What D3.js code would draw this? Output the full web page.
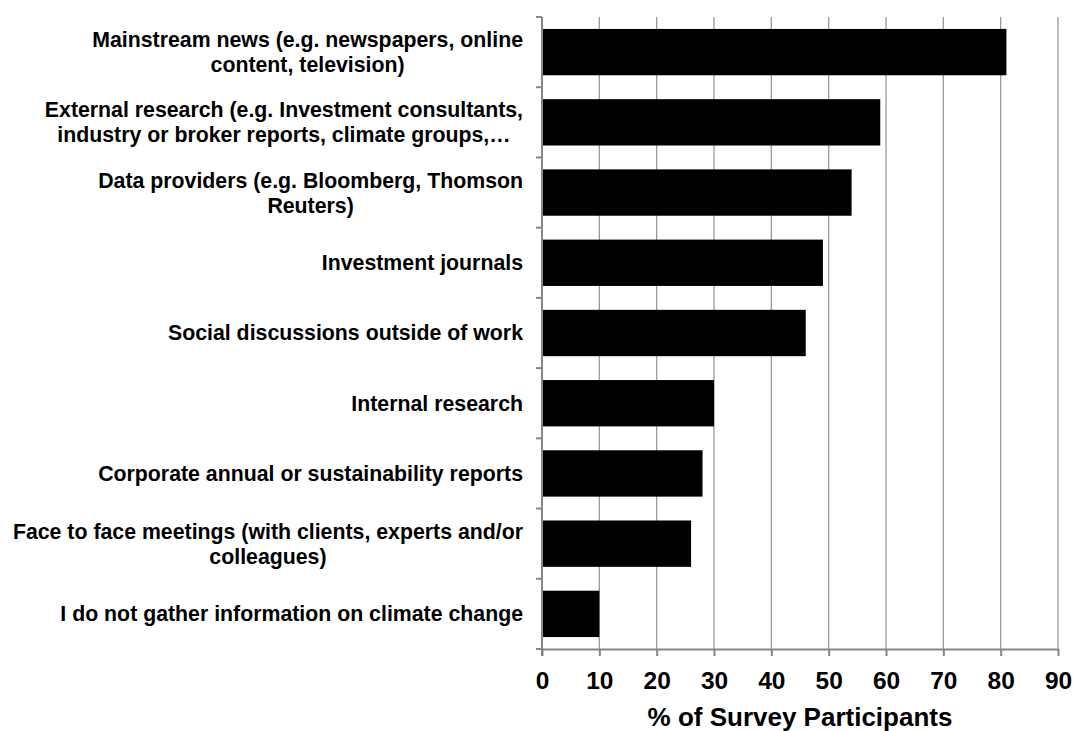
<!DOCTYPE html>
<html>
<head>
<meta charset="utf-8">
<script src="https://cdn.jsdelivr.net/npm/d3@7/dist/d3.min.js"></script>
<style>
  html, body { margin: 0; padding: 0; background: #fff; }
  svg { display: block; font-family: "Liberation Sans", Arial, sans-serif; }
</style>
</head>
<body>
<svg id="chart" width="1075" height="731"></svg>
<script>
// Sources of climate change information, top to bottom
const categories = [
  "Mainstream news (e.g. newspapers, online\ncontent, television)",
  "External research (e.g. Investment consultants,\nindustry or broker reports, climate groups,…",
  "Data providers (e.g. Bloomberg, Thomson\nReuters)",
  "Investment journals",
  "Social discussions outside of work",
  "Internal research",
  "Corporate annual or sustainability reports",
  "Face to face meetings (with clients, experts and/or\ncolleagues)",
  "I do not gather information on climate change"
];
const values = [81, 59, 54, 49, 46, 30, 28, 26, 10];
const xTicks = [0, 10, 20, 30, 40, 50, 60, 70, 80, 90];
const xTitle = "% of Survey Participants";

const svg = d3.select("#chart");
const margin = { left: 542, right: 17, top: 17, bottom: 82 };
const width = 1075, height = 731;
const plotRight = width - margin.right;
const plotBottom = height - margin.bottom;

const x = d3.scaleLinear().domain([0, 90]).range([margin.left, plotRight]);
const y = d3.scaleBand()
  .domain(categories)
  .range([margin.top, plotBottom])
  .paddingInner(0.34)
  .paddingOuter(0.17);

// vertical gridlines
svg.append("g")
  .selectAll("line")
  .data(xTicks.filter(t => t > 0))
  .join("line")
  .attr("x1", d => x(d)).attr("x2", d => x(d))
  .attr("y1", margin.top).attr("y2", plotBottom)
  .attr("stroke", "#9a9a9a")
  .attr("stroke-width", 1.3);

// bars
svg.append("g")
  .selectAll("rect")
  .data(values)
  .join("rect")
  .attr("x", x(0))
  .attr("y", (d, i) => y(categories[i]))
  .attr("width", d => x(d) - x(0))
  .attr("height", y.bandwidth())
  .attr("fill", "#000");

// bottom axis
const xAxis = d3.axisBottom(x)
  .tickValues(xTicks)
  .tickSize(7)
  .tickSizeOuter(0)
  .tickPadding(16);
const gx = svg.append("g")
  .attr("transform", `translate(0,${plotBottom})`)
  .call(xAxis);
gx.select(".domain").attr("stroke", "#868686").attr("stroke-width", 2);
gx.selectAll(".tick line").attr("stroke", "#868686").attr("stroke-width", 2);
gx.selectAll(".tick text")
  .attr("fill", "#000")
  .attr("font-size", 24.5)
  .attr("font-weight", "bold")
  .attr("font-family", "Liberation Sans, Arial, sans-serif");

// left axis: band boundary ticks and axis line
const step = y.step();
const bounds = d3.range(categories.length + 1).map(i => margin.top + i * step);
svg.append("g")
  .selectAll("line")
  .data(bounds)
  .join("line")
  .attr("x1", x(0) - 6).attr("x2", x(0))
  .attr("y1", d => d).attr("y2", d => d)
  .attr("stroke", "#868686")
  .attr("stroke-width", 2);
svg.append("line")
  .attr("x1", x(0)).attr("x2", x(0))
  .attr("y1", margin.top).attr("y2", plotBottom + 7)
  .attr("stroke", "#868686")
  .attr("stroke-width", 2);

// category labels: block right-aligned to the axis, lines centred within the block
const lineH = 25;
const labelRight = x(0) - 19;
const labels = svg.append("g")
  .attr("font-size", 21.3)
  .attr("font-weight", "bold")
  .attr("fill", "#000")
  .attr("text-anchor", "middle");
categories.forEach(c => {
  const lines = c.split("\n");
  const cy = y(c) + y.bandwidth() / 2;
  const t = labels.append("text")
    .attr("y", cy - (lines.length - 1) * lineH / 2);
  const spans = lines.map((ln, i) =>
    t.append("tspan")
      .attr("dy", i === 0 ? "0.35em" : lineH)
      .text(ln));
  const maxW = d3.max(spans, s => s.node().getComputedTextLength());
  const cx = labelRight - maxW / 2;
  spans.forEach(s => s.attr("x", cx));
});

// axis title
svg.append("text")
  .attr("x", (x(0) + plotRight) / 2)
  .attr("y", 726)
  .attr("text-anchor", "middle")
  .attr("font-size", 26)
  .attr("font-weight", "bold")
  .attr("fill", "#000")
  .text(xTitle);
</script>
</body>
</html>
